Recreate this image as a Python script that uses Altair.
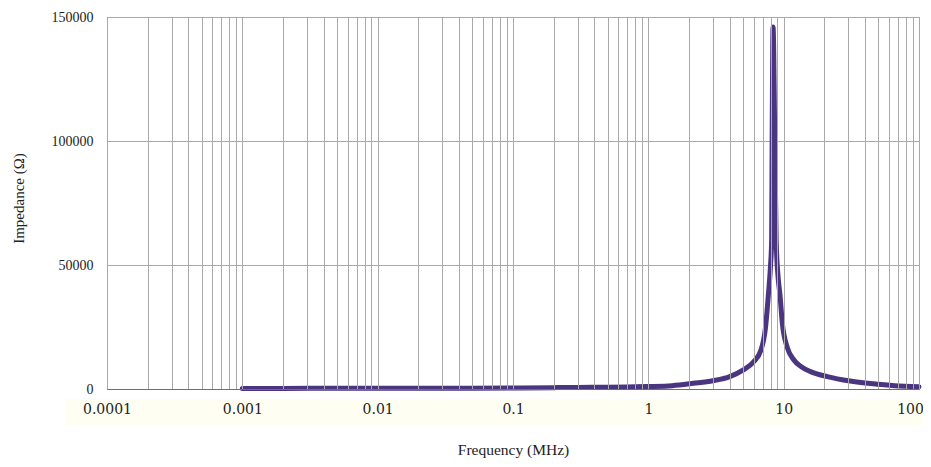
import altair as alt
import pandas as pd

# Frequency (MHz) and impedance (ohm)
freq = [0.001, 0.002, 0.005, 0.01, 0.02, 0.05, 0.1, 0.2, 0.3, 0.5, 0.7, 1.0,
        1.5, 2.15, 3.0, 4.0, 5.0, 6.0, 6.8, 7.35, 7.71, 8.0, 8.15, 8.22, 8.35,
        8.6, 8.8, 9.1, 9.39, 9.78, 10.6, 11.9, 13.5, 15.8, 21.0, 31.0, 50.0,
        66.0, 100.0]
impedance = [250, 250, 260, 280, 300, 350, 420, 550, 650, 750, 850, 1000,
             1350, 2300, 3350, 5000, 7600, 11000, 15700, 25000, 38000, 50000,
             60000, 100000, 146000, 100000, 60000, 45000, 38000, 26400, 17000,
             11700, 9000, 7000, 5000, 3200, 1900, 1340, 900]

x_grid_values = [m * 10.0 ** e for e in range(-4, 2) for m in range(1, 10)] + [100.0]
y_tick_values = [0, 50000, 100000, 150000]

df = pd.DataFrame({"freq": freq, "z": impedance})

FONT = "Liberation Serif"

band = alt.Chart(pd.DataFrame({"a": [0]})).mark_rect(color="#fefef3").encode(
    x=alt.value(-42), x2=alt.value(816), y=alt.value(382), y2=alt.value(408)
)

line = alt.Chart(df).mark_line(
    color="#4a3580", strokeWidth=5, interpolate="monotone", strokeCap="round",
    strokeJoin="round"
).encode(
    x=alt.X("freq:Q",
            scale=alt.Scale(type="log", domain=[0.0001, 100], nice=False),
            axis=alt.Axis(
                values=x_grid_values,
                format="~g",
                labelExpr="abs(log(datum.value)/LN10 - round(log(datum.value)/LN10)) < 0.000001 ? datum.label : ''",
                grid=True, gridColor="#a9a9a9", gridWidth=1,
                domainColor="#6e6e6e", ticks=False, zindex=1,
                labelFont="DejaVu Serif", labelFontSize=14, labelColor="#222222",
                labelPadding=13, labelFlush=False, labelOverlap=False,
                labelOffset={"condition": {"test": "datum.value >= 99", "value": -9}, "value": 0},
                title="Frequency (MHz)", titleFont=FONT, titleFontSize=15.5,
                titleFontWeight="normal", titleColor="#222222",
                titleY=60, titleBaseline="middle",
            )),
    y=alt.Y("z:Q",
            scale=alt.Scale(domain=[0, 150000], nice=False),
            axis=alt.Axis(
                values=y_tick_values, format="d",
                grid=True, gridColor="#a9a9a9", gridWidth=1,
                domainColor="#6e6e6e", ticks=False,
                labelFont=FONT, labelFontSize=14, labelColor="#222222",
                labelPadding=14,
                title="Impedance (Ω)", titleFont=FONT, titleFontSize=15,
                titleFontWeight="normal", titleColor="#222222",
                titleX=-89, titleY=181, titleBaseline="middle", titleAlign="center",
            )),
)

chart = alt.layer(band, line).properties(
    width=812, height=372,
    padding={"left": 99, "top": 9, "right": 4, "bottom": 70},
    autosize=alt.AutoSizeParams(type="none"),
).configure_view(stroke="#7a7a7a", strokeWidth=1)

chart.save("out.html", embed_options={"renderer": "svg", "actions": False})
